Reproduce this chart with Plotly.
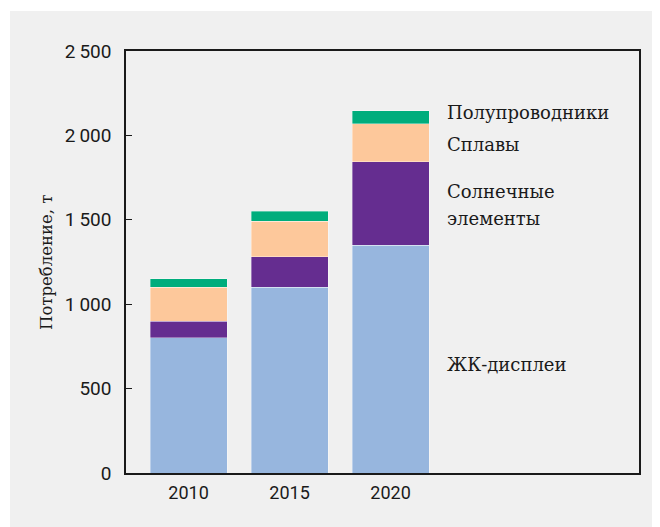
import plotly.graph_objects as go

years = ["2010", "2015", "2020"]
lcd = [800, 1100, 1350]
solar = [100, 180, 495]
alloys = [200, 210, 225]
semis = [50, 60, 75]

series_names = ["ЖК-дисплеи", "Солнечные элементы", "Сплавы", "Полупроводники"]
series_values = [lcd, solar, alloys, semis]
colors = ["#97b6de", "#652d90", "#fdc89b", "#00ad7c"]

y_tickvals = [0, 500, 1000, 1500, 2000, 2500]
y_ticktext = ["0", "500", "1\u2009000", "1\u2009500", "2\u2009000", "2\u2009500"]

label_texts = ["ЖК-дисплеи", "Солнечные", "элементы", "Сплавы", "Полупроводники"]
label_y = [640, 1665, 1510, 1945, 2135]

fig = go.Figure()
for name, vals, col in zip(series_names, series_values, colors):
    fig.add_trace(go.Bar(
        x=years, y=vals, name=name,
        marker=dict(color=col, line=dict(color="rgba(255,255,255,0.45)", width=0.8)),
        width=0.762,
    ))

for txt, yv in zip(label_texts, label_y):
    fig.add_annotation(x=2.54, y=yv, xref="x", yref="y", text=txt,
                       showarrow=False, xanchor="left", yanchor="middle",
                       font=dict(family="DejaVu Serif", size=18, color="#1a1a1a"))

# y-axis title as annotation
fig.add_annotation(x=-0.156, y=0.5, xref="paper", yref="paper", text="Потребление, т",
                   textangle=-90, showarrow=False, xanchor="center", yanchor="middle",
                   font=dict(family="DejaVu Serif", size=16.5, color="#1a1a1a"))

# grey panel with a thin white border like the reference
fig.add_shape(type="rect", xref="paper", yref="paper",
              x0=-0.2261, x1=2, y0=-1, y1=1.0948,
              fillcolor="#f0f0f0", line=dict(width=0), layer="below")

fig.update_layout(
    width=660, height=527,
    margin=dict(l=118, r=29, t=43, b=62),
    paper_bgcolor="white", plot_bgcolor="#f0f0f0",
    barmode="stack",
    showlegend=False,
    font=dict(family="Roboto", size=18, color="#1a1a1a"),
)
fig.update_xaxes(
    type="category", range=[-0.619, 4.460],
    showline=True, linecolor="#1a1a1a", linewidth=1.5, mirror=True,
    ticks="", showgrid=False, zeroline=False,
    tickfont=dict(family="Roboto", size=18),
    ticklabelstandoff=3,
)
fig.update_yaxes(
    range=[0, 2500], tickvals=y_tickvals, ticktext=y_ticktext,
    showline=True, linecolor="#1a1a1a", linewidth=1.5, mirror=True,
    ticks="inside", ticklen=6, tickcolor="#1a1a1a", tickwidth=1.2,
    showgrid=False, zeroline=False,
    tickfont=dict(family="Roboto", size=19),
    ticklabelstandoff=9,
)

fig.write_html("out.html")
